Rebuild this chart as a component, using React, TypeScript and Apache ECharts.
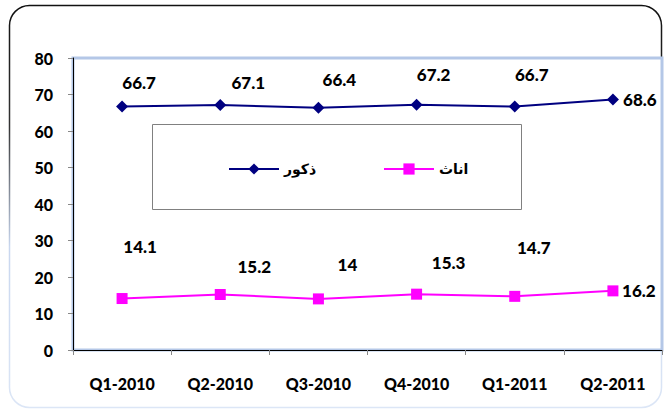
import React, { useEffect, useRef } from "react";
import * as echarts from "echarts";

const categories = ["Q1-2010", "Q2-2010", "Q3-2010", "Q4-2010", "Q1-2011", "Q2-2011"];
const males = [66.7, 67.1, 66.4, 67.2, 66.7, 68.6];
const females = [14.1, 15.2, 14, 15.3, 14.7, 16.2];
const maleName = "ذكور";
const femaleName = "اناث";
const yTicks = { min: 0, max: 80, interval: 10 };

// label offsets (styling) relative to each point's centre
const maleLabelOffsets = [[17, -24], [28, -23], [21, -28], [17, -30], [17, -32], [27, 0]];
const femaleLabelOffsets = [[18, -52], [34, -28], [29, -34], [32, -32], [19, -49], [26, 0]];

const FONT = "Lato, 'DejaVu Sans', sans-serif";
const AR_FONT = "'DejaVu Sans', sans-serif";

export default function App() {
  const ref = useRef<HTMLDivElement>(null);
  useEffect(() => {
    if (!ref.current) return;
    const chart = echarts.init(ref.current, undefined, { renderer: "svg" });
    const labelStyle = {
      show: true,
      position: "inside",
      color: "#000",
      fontFamily: FONT,
      fontWeight: 900,
      fontSize: 17,
    };
    const legendText = { fontFamily: AR_FONT, fontWeight: "bold", fontSize: 14, color: "#000" };
    chart.setOption({
      animation: false,
      backgroundColor: "#fff",
      textStyle: { fontFamily: FONT },
      graphic: [
        {
          type: "rect",
          z: -10,
          shape: { x: 9.5, y: 5.5, width: 652, height: 402, r: 20 },
          style: {
            fill: "#fff",
            lineWidth: 1.5,
            stroke: new echarts.graphic.LinearGradient(0, 0, 0, 1, [
              { offset: 0, color: "#111" },
              { offset: 0.3, color: "#333" },
              { offset: 0.6, color: "#c9d7ef" },
              { offset: 1, color: "#dce6f6" },
            ]),
          },
        },
        {
          type: "rect",
          z: 5,
          shape: { x: 152.5, y: 124.5, width: 369, height: 85 },
          style: { fill: "#fff", stroke: "#808080", lineWidth: 1 },
        },
      ],
      grid: {
        left: 73,
        right: 2,
        top: 58,
        bottom: 61,
        show: true,
        borderColor: "#b4c7e7",
        borderWidth: 3,
        backgroundColor: "#fff",
      },
      legend: [
        {
          data: [maleName],
          left: 223,
          top: 157,
          itemWidth: 50,
          itemHeight: 14,
          itemGap: 4,
          z: 10,
          textStyle: legendText,
        },
        {
          data: [femaleName],
          left: 378,
          top: 157,
          itemWidth: 50,
          itemHeight: 14,
          z: 10,
          textStyle: legendText,
        },
      ],
      xAxis: {
        type: "category",
        data: categories,
        boundaryGap: true,
        axisLine: { show: true, lineStyle: { color: "#000", width: 1 } },
        axisTick: { show: true, alignWithLabel: false, length: 5, lineStyle: { color: "#888" } },
        axisLabel: {
          margin: 25,
          color: "#000",
          fontFamily: FONT,
          fontWeight: 900,
          fontSize: 16,
        },
        splitLine: { show: false },
      },
      yAxis: {
        type: "value",
        min: yTicks.min,
        max: yTicks.max,
        interval: yTicks.interval,
        axisLine: { show: true, lineStyle: { color: "#000", width: 1 } },
        axisTick: { show: true, length: 5, lineStyle: { color: "#888" } },
        axisLabel: {
          margin: 20,
          color: "#000",
          fontFamily: FONT,
          fontWeight: 900,
          fontSize: 16,
        },
        splitLine: { show: false },
      },
      series: [
        {
          name: maleName,
          type: "line",
          symbol: "diamond",
          symbolSize: 12,
          lineStyle: { color: "#000080", width: 2 },
          itemStyle: { color: "#000080" },
          data: males.map((v, i) => ({
            value: v,
            label: { ...labelStyle, offset: maleLabelOffsets[i] },
          })),
        },
        {
          name: femaleName,
          type: "line",
          symbol: "rect",
          symbolSize: 11,
          lineStyle: { color: "#ff00ff", width: 2 },
          itemStyle: { color: "#ff00ff" },
          data: females.map((v, i) => ({
            value: v,
            label: { ...labelStyle, offset: femaleLabelOffsets[i] },
          })),
        },
      ],
    });
    return () => chart.dispose();
  }, []);
  return (
    <div
      ref={ref}
      style={{ position: "fixed", left: 0, top: 0, width: 664, height: 411 }}
    />
  );
}
